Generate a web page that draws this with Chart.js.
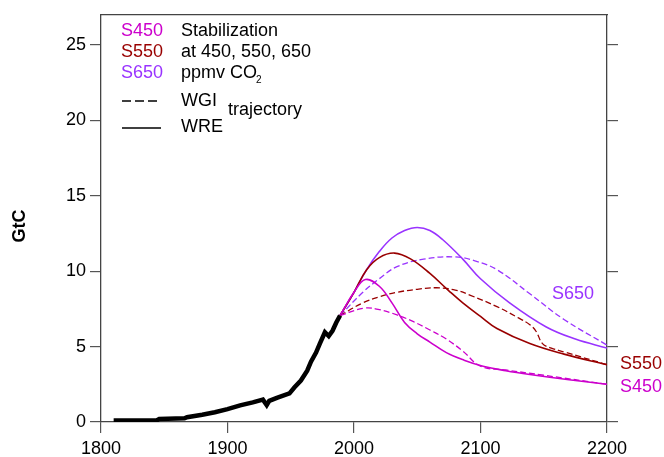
<!DOCTYPE html>
<html>
<head>
<meta charset="utf-8">
<script src="https://cdn.jsdelivr.net/npm/chart.js@4"></script>
<style>
  body { margin: 0; background: #fff; }
  #wrap { width: 664px; height: 457px; }
</style>
</head>
<body>
<div id="wrap"><canvas id="emissions" width="664" height="457"></canvas></div>
<script>
// historical emissions (GtC)
const histYears = [1810, 1844, 1846, 1866, 1868, 1880, 1890, 1900, 1910, 1920, 1928, 1931, 1933, 1939, 1949, 1953, 1958, 1963, 1966, 1970, 1973, 1977, 1980, 1983, 1986, 1989]
const histVals  = [0.1, 0.1, 0.2, 0.25, 0.32, 0.48, 0.65, 0.85, 1.1, 1.3, 1.48, 1.12, 1.4, 1.6, 1.9, 2.3, 2.75, 3.4, 4.0, 4.6, 5.2, 5.95, 5.7, 6.05, 6.6, 7.06]

// WRE trajectories
const s650WreYears = [1989, 2000, 2010, 2020, 2030, 2040, 2050, 2060, 2070, 2086, 2100, 2123, 2152, 2175, 2200]
const s650WreVals  = [7.06, 8.6, 10.1, 11.3, 12.2, 12.7, 12.9, 12.7, 12.1, 10.8, 9.5, 7.9, 6.3, 5.5, 4.9]
const s550WreYears = [1989, 2000, 2010, 2020, 2032, 2045, 2060, 2075, 2086, 2100, 2113, 2139, 2166, 2200]
const s550WreVals  = [7.06, 8.6, 10.1, 10.9, 11.2, 10.8, 9.85, 8.7, 7.9, 7.0, 6.2, 5.2, 4.5, 3.8]
const s450WreYears = [1989, 2000, 2009, 2020, 2030, 2040, 2050, 2060, 2073, 2087, 2102, 2120, 2139, 2170, 2200]
const s450WreVals  = [7.06, 8.6, 9.45, 9.0, 7.9, 6.6, 5.85, 5.3, 4.6, 4.1, 3.7, 3.4, 3.15, 2.8, 2.5]

// WGI trajectories
const s650WgiYears = [1989, 2007, 2020, 2034, 2055, 2080, 2095, 2113, 2139, 2166, 2200]
const s650WgiVals  = [7.06, 8.6, 9.5, 10.3, 10.8, 10.95, 10.7, 10.1, 8.5, 6.8, 5.1]
const s550WgiYears = [1989, 2007, 2020, 2034, 2050, 2065, 2080, 2092, 2113, 2130, 2139, 2144, 2149, 2156, 2166, 2200]
const s550WgiVals  = [7.06, 7.9, 8.3, 8.6, 8.8, 8.9, 8.75, 8.4, 7.65, 6.9, 6.45, 6.0, 5.2, 4.9, 4.65, 3.8]
const s450WgiYears = [1989, 2008, 2020, 2034, 2047, 2060, 2073, 2086, 2100, 2120, 2150, 2200]
const s450WgiVals  = [7.06, 7.55, 7.45, 7.1, 6.65, 6.1, 5.5, 4.7, 3.7, 3.45, 3.1, 2.5]

const xTicks = [1800, 1900, 2000, 2100, 2200]
const yTicks = [0, 5, 10, 15, 20, 25]

const C450 = '#cc00cc'
const C550 = '#990000'
const C650 = '#9933ff'
const FONT = 'Liberation Sans, Arial, sans-serif'

function pts(xs, ys) {
  return xs.map((x, i) => ({ x: x, y: ys[i] }))
}

function line(label, xs, ys, color, dashed) {
  return {
    label: label,
    data: pts(xs, ys),
    borderColor: color,
    borderWidth: dashed ? 1.3 : 1.6,
    borderDash: dashed ? [6, 3] : [],
    pointRadius: 0,
    tension: 0.4,
    fill: false
  }
}

// legend, side labels and y title drawn as text on the canvas
const annotations = {
  id: 'annotations',
  afterDraw(chart) {
    const ctx = chart.ctx
    ctx.save()
    ctx.textBaseline = 'middle'
    ctx.font = '18px ' + FONT
    ctx.textAlign = 'left'
    ctx.fillStyle = C450; ctx.fillText('S450', 121, 31)
    ctx.fillStyle = C550; ctx.fillText('S550', 121, 52)
    ctx.fillStyle = C650; ctx.fillText('S650', 121, 73)
    ctx.fillStyle = '#000'
    ctx.fillText('Stabilization', 181, 31)
    ctx.fillText('at 450, 550, 650', 181, 52)
    ctx.fillText('ppmv CO', 181, 73)
    const w = ctx.measureText('ppmv CO').width
    ctx.font = '10px ' + FONT
    ctx.fillText('2', 181 + w - 1, 80)
    ctx.font = '18px ' + FONT
    ctx.fillText('WGI', 181, 101)
    ctx.fillText('WRE', 181, 127)
    ctx.fillText('trajectory', 228, 110)

    ctx.strokeStyle = '#000'
    ctx.lineWidth = 1.6
    ctx.setLineDash([9, 4])
    ctx.beginPath(); ctx.moveTo(122, 101); ctx.lineTo(161, 101); ctx.stroke()
    ctx.setLineDash([])
    ctx.beginPath(); ctx.moveTo(122, 128); ctx.lineTo(161, 128); ctx.stroke()

    ctx.fillStyle = C650; ctx.fillText('S650', 552, 294)
    ctx.fillStyle = C550; ctx.fillText('S550', 620, 364)
    ctx.fillStyle = C450; ctx.fillText('S450', 620, 387)

    ctx.translate(20, 226)
    ctx.rotate(-Math.PI / 2)
    ctx.textAlign = 'center'
    ctx.fillStyle = '#000'
    ctx.font = 'bold 18px ' + FONT
    ctx.fillText('GtC', 0, 0)
    ctx.restore()
  }
}

const axisGrid = { drawOnChartArea: false, color: '#555', tickLength: 11, lineWidth: 1.2 }
const axisBorder = { color: '#444', width: 1.3 }

new Chart(document.getElementById('emissions'), {
  type: 'line',
  data: {
    datasets: [
      {
        label: 'Historical',
        data: pts(histYears, histVals),
        borderColor: '#000',
        borderWidth: 4.5,
        pointRadius: 0,
        tension: 0,
        fill: false
      },
      line('S450 WRE', s450WreYears, s450WreVals, C450, false),
      line('S550 WRE', s550WreYears, s550WreVals, C550, false),
      line('S650 WRE', s650WreYears, s650WreVals, C650, false),
      line('S450 WGI', s450WgiYears, s450WgiVals, C450, true),
      line('S550 WGI', s550WgiYears, s550WgiVals, C550, true),
      line('S650 WGI', s650WgiYears, s650WgiVals, C650, true)
    ]
  },
  options: {
    responsive: false,
    animation: false,
    layout: { padding: 0 },
    plugins: { legend: { display: false }, tooltip: { enabled: false } },
    scales: {
      x: {
        type: 'linear',
        position: 'bottom',
        min: 1800, max: 2200,
        afterBuildTicks: s => { s.ticks = xTicks.map(v => ({ value: v })) },
        afterFit: s => { s.height = 35 },
        ticks: { color: '#000', font: { family: FONT, size: 18 }, padding: 5, maxRotation: 0, callback: v => String(v) },
        grid: axisGrid,
        border: axisBorder
      },
      xTop: {
        type: 'linear',
        position: 'top',
        min: 1800, max: 2200,
        afterFit: s => { s.height = 13 },
        ticks: { display: false },
        grid: { display: true, drawOnChartArea: false, drawTicks: false },
        border: axisBorder
      },
      y: {
        position: 'left',
        min: 0, max: 27,
        afterBuildTicks: s => { s.ticks = yTicks.map(v => ({ value: v })) },
        afterFit: s => { s.width = 101 },
        ticks: { color: '#000', font: { family: FONT, size: 18 }, padding: 4 },
        grid: axisGrid,
        border: axisBorder
      },
      yRight: {
        position: 'right',
        min: 0, max: 27,
        afterBuildTicks: s => { s.ticks = yTicks.map(v => ({ value: v })) },
        afterFit: s => { s.width = 57 },
        ticks: { display: false },
        grid: axisGrid,
        border: axisBorder
      }
    }
  },
  plugins: [annotations]
})
</script>
</body>
</html>
